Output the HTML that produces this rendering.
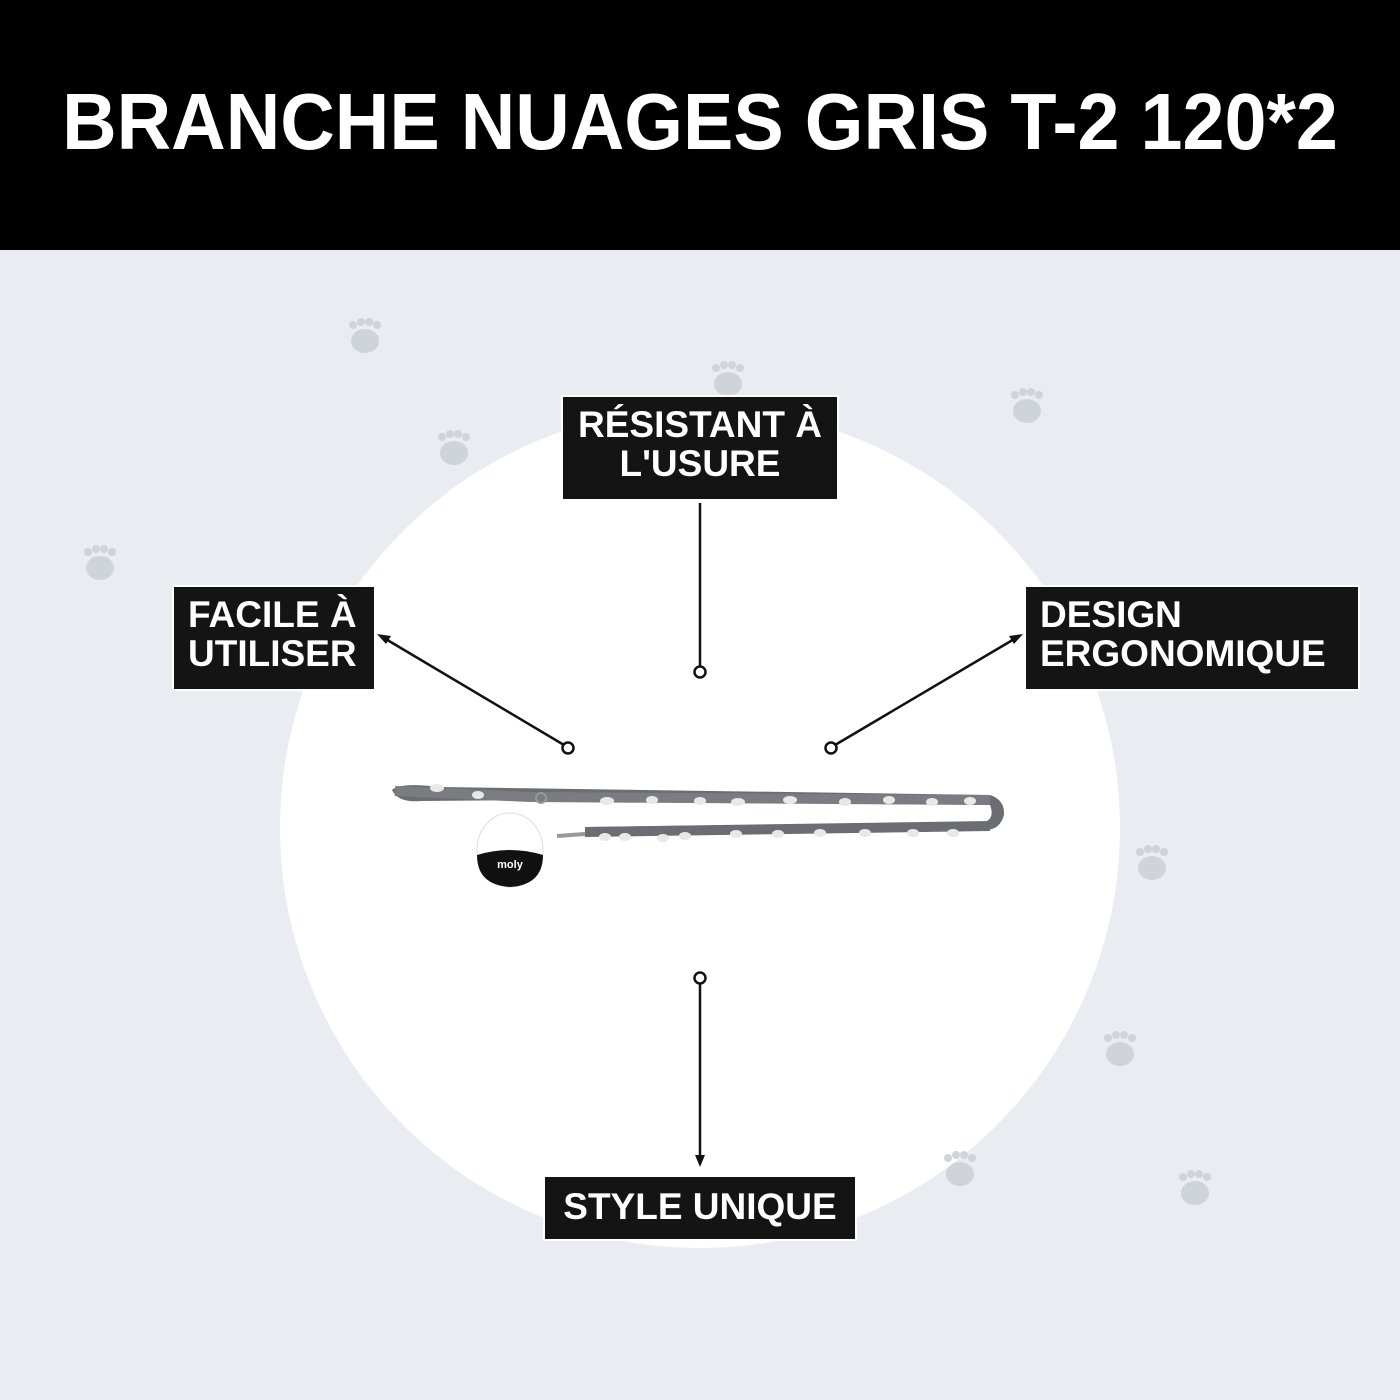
<!DOCTYPE html>
<html><head><meta charset="utf-8"><style>
body{margin:0;width:1400px;height:1400px;background:#e9ecf1;position:relative;overflow:hidden;font-family:"Liberation Sans",sans-serif;}
.hdr{position:absolute;left:0;top:0;width:1400px;height:250px;background:#000;}
.hdr div{position:absolute;left:0;width:1400px;top:77px;text-align:center;color:#fff;font-weight:bold;font-size:80px;line-height:90px;white-space:nowrap;transform:scaleX(0.944);}
.circle{position:absolute;left:280px;top:408px;width:840px;height:840px;border-radius:50%;background:#fff}
.box{position:absolute;background:#141414;border:2px solid #fff;color:#fff;font-weight:bold;font-size:37px;line-height:39px;box-sizing:border-box;padding:8px 14px;white-space:nowrap}
svg{position:absolute;left:0;top:0}
</style></head><body>
<div class="hdr"><div>BRANCHE NUAGES GRIS T-2 120*2</div></div>
<div class="circle"></div>
<svg width="1400" height="1400">
<g fill="#cfd3da">
<g transform="translate(365,335)"><ellipse cx="0" cy="6" rx="14" ry="12"/><circle cx="-12" cy="-10" r="4"/><circle cx="-4" cy="-13" r="4"/><circle cx="4" cy="-13" r="4"/><circle cx="12" cy="-10" r="4"/></g>
<g transform="translate(728,378)"><ellipse cx="0" cy="6" rx="14" ry="12"/><circle cx="-12" cy="-10" r="4"/><circle cx="-4" cy="-13" r="4"/><circle cx="4" cy="-13" r="4"/><circle cx="12" cy="-10" r="4"/></g>
<g transform="translate(1027,405)"><ellipse cx="0" cy="6" rx="14" ry="12"/><circle cx="-12" cy="-10" r="4"/><circle cx="-4" cy="-13" r="4"/><circle cx="4" cy="-13" r="4"/><circle cx="12" cy="-10" r="4"/></g>
<g transform="translate(454,447)"><ellipse cx="0" cy="6" rx="14" ry="12"/><circle cx="-12" cy="-10" r="4"/><circle cx="-4" cy="-13" r="4"/><circle cx="4" cy="-13" r="4"/><circle cx="12" cy="-10" r="4"/></g>
<g transform="translate(100,562)"><ellipse cx="0" cy="6" rx="14" ry="12"/><circle cx="-12" cy="-10" r="4"/><circle cx="-4" cy="-13" r="4"/><circle cx="4" cy="-13" r="4"/><circle cx="12" cy="-10" r="4"/></g>
<g transform="translate(1152,862)"><ellipse cx="0" cy="6" rx="14" ry="12"/><circle cx="-12" cy="-10" r="4"/><circle cx="-4" cy="-13" r="4"/><circle cx="4" cy="-13" r="4"/><circle cx="12" cy="-10" r="4"/></g>
<g transform="translate(1120,1048)"><ellipse cx="0" cy="6" rx="14" ry="12"/><circle cx="-12" cy="-10" r="4"/><circle cx="-4" cy="-13" r="4"/><circle cx="4" cy="-13" r="4"/><circle cx="12" cy="-10" r="4"/></g>
<g transform="translate(960,1168)"><ellipse cx="0" cy="6" rx="14" ry="12"/><circle cx="-12" cy="-10" r="4"/><circle cx="-4" cy="-13" r="4"/><circle cx="4" cy="-13" r="4"/><circle cx="12" cy="-10" r="4"/></g>
<g transform="translate(1195,1187)"><ellipse cx="0" cy="6" rx="14" ry="12"/><circle cx="-12" cy="-10" r="4"/><circle cx="-4" cy="-13" r="4"/><circle cx="4" cy="-13" r="4"/><circle cx="12" cy="-10" r="4"/></g>
</g>
<g stroke="#111" stroke-width="2.5" fill="none">
<line x1="700" y1="503" x2="700" y2="666"/><circle cx="700" cy="672" r="5.5"/>
<line x1="564" y1="745" x2="384" y2="638"/><circle cx="568" cy="748" r="5.5"/>
<line x1="835" y1="745" x2="1016" y2="638"/><circle cx="831" cy="748" r="5.5"/>
<line x1="700" y1="984" x2="700" y2="1158"/><circle cx="700" cy="978" r="5.5"/>
</g>
<g fill="#111">
<polygon points="377,634 391,636 386,644"/>
<polygon points="1023,634 1009,636 1014,644"/>
<polygon points="700,1167 695,1155 705,1155"/>
</g>
<g>
<path d="M392,790 Q400,782 440,787 L990,795 Q1005,800 1004,815 Q1000,830 985,830 L590,834 L590,827 L985,822 Q995,818 990,805 L530,800 L420,801 Q398,803 392,790Z" fill="#6b6d72"/>
<path d="M395,791 L530,797 L990,800" stroke="#7a7c82" stroke-width="10" fill="none"/>
<path d="M585,832 L990,826" stroke="#6b6d72" stroke-width="10"/>
<g fill="#e8e8e8">
<ellipse cx="437" cy="788" rx="7" ry="4"/><ellipse cx="478" cy="795" rx="6" ry="4"/><ellipse cx="607" cy="801" rx="7" ry="4"/><ellipse cx="652" cy="800" rx="6" ry="4"/><ellipse cx="700" cy="801" rx="6" ry="4"/><ellipse cx="738" cy="802" rx="7" ry="4"/><ellipse cx="790" cy="800" rx="7" ry="4"/><ellipse cx="845" cy="802" rx="6" ry="4"/><ellipse cx="889" cy="800" rx="6" ry="4"/><ellipse cx="932" cy="802" rx="6" ry="4"/><ellipse cx="970" cy="801" rx="6" ry="4"/>
<ellipse cx="605" cy="837" rx="6" ry="4"/><ellipse cx="625" cy="837" rx="6" ry="4"/><ellipse cx="663" cy="838" rx="6" ry="4"/><ellipse cx="685" cy="836" rx="6" ry="4"/><ellipse cx="736" cy="834" rx="6" ry="4"/><ellipse cx="778" cy="834" rx="6" ry="4"/><ellipse cx="820" cy="833" rx="6" ry="4"/><ellipse cx="865" cy="833" rx="6" ry="4"/><ellipse cx="913" cy="833" rx="6" ry="4"/><ellipse cx="953" cy="833" rx="6" ry="4"/>
</g>
<circle cx="541" cy="798" r="5" fill="none" stroke="#999" stroke-width="2"/>
<path d="M557,836 L585,834" stroke="#999" stroke-width="4"/>
<ellipse cx="510" cy="850" rx="33" ry="37" fill="#fff" stroke="#ddd"/>
<path d="M477,855 Q510,845 543,855 Q543,885 510,887 Q477,885 477,855Z" fill="#111"/>
<text x="510" y="868" fill="#fff" font-size="11" font-weight="bold" text-anchor="middle">moly</text>
</g>
</svg>
<div class="box" style="left:172px;top:585px;width:204px;height:106px">FACILE À<br>UTILISER</div>
<div class="box" style="left:561px;top:395px;width:278px;height:106px;text-align:center;padding-left:4px;padding-right:4px">RÉSISTANT À<br>L'USURE</div>
<div class="box" style="left:1024px;top:585px;width:336px;height:106px">DESIGN<br>ERGONOMIQUE</div>
<div class="box" style="left:543px;top:1175px;width:314px;height:66px;text-align:center;padding-top:10px">STYLE UNIQUE</div>
</body></html>
